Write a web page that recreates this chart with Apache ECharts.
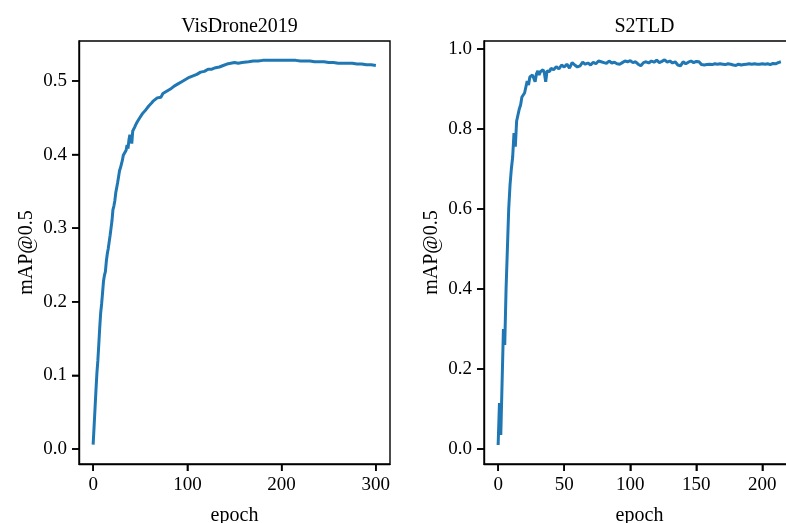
<!DOCTYPE html>
<html>
<head>
<meta charset="utf-8">
<script src="https://cdn.jsdelivr.net/npm/echarts@6/dist/echarts.min.js"></script>
<style>
html,body{margin:0;padding:0;background:#fff;}
#chart{width:786px;height:523px;}
</style>
</head>
<body>
<div id="chart"></div>
<script>
// ---- Data ----
const titles = ['VisDrone2019', 'S2TLD'];
const xAxisName = 'epoch';
const yAxisName = 'mAP@0.5';

const visEpochs = [0,1,2,3,4,5,6,7,8,9,10,11,12,13,14,15,16,17,18,19,20,21,22,23,24,25,26,27,28,29,30,31,32,33,34,35,36,37,38,39,40,41,42,43,44,45,46,47,48,49,50,51,52,53,54,55,56,57,58,59,60,62,64,66,68,70,72,74,76,78,80,82,84,86,88,90,92,94,96,98,100,102,104,106,108,110,112,114,116,118,120,122,124,126,128,130,132,134,136,138,140,142,144,146,148,150,152,154,156,158,160,165,170,175,180,185,190,195,200,205,210,215,220,225,230,235,240,245,250,255,260,265,270,275,280,285,290,295,300];
const visMap = [0.006,0.030,0.055,0.080,0.103,0.120,0.142,0.165,0.185,0.197,0.212,0.228,0.236,0.241,0.255,0.265,0.272,0.281,0.290,0.300,0.310,0.325,0.330,0.337,0.348,0.355,0.362,0.370,0.378,0.382,0.384,0.392,0.399,0.400,0.401,0.406,0.413,0.408,0.420,0.427,0.423,0.415,0.432,0.434,0.437,0.440,0.441,0.445,0.447,0.446,0.451,0.452,0.455,0.454,0.458,0.460,0.461,0.463,0.462,0.466,0.467,0.470,0.473,0.472,0.477,0.479,0.478,0.483,0.484,0.486,0.488,0.489,0.490,0.493,0.494,0.496,0.497,0.499,0.500,0.502,0.503,0.505,0.506,0.507,0.507,0.509,0.511,0.512,0.513,0.513,0.515,0.516,0.517,0.516,0.518,0.518,0.517,0.519,0.520,0.521,0.522,0.523,0.524,0.524,0.524,0.525,0.525,0.524,0.526,0.525,0.526,0.526,0.527,0.527,0.528,0.528,0.528,0.528,0.528,0.528,0.528,0.528,0.527,0.527,0.527,0.526,0.526,0.526,0.525,0.525,0.524,0.524,0.524,0.524,0.523,0.523,0.522,0.522,0.521];

const s2Epochs = [0,1,2,3,4,5,6,7,8,9,10,11,12,13,14,15,16,17,18,19,20,21,22,23,24,25,26,27,28,29,30,31,32,33,34,35,36,37,38,39,40,42,44,46,48,50,52,54,56,58,60,62,64,66,68,70,72,74,76,78,80,82,84,86,88,90,92,94,96,98,100,102,104,106,108,110,112,114,116,118,120,122,124,126,128,130,132,134,136,138,140,142,144,146,148,150,152,154,156,158,160,162,164,166,168,170,172,174,176,178,180,182,184,186,188,190,192,194,196,198,200,202,204,206,208,210,212,213,214];
const s2Map = [0.010,0.115,0.035,0.040,0.300,0.260,0.400,0.500,0.600,0.660,0.700,0.730,0.790,0.756,0.820,0.835,0.850,0.860,0.880,0.875,0.890,0.885,0.920,0.910,0.930,0.925,0.935,0.940,0.918,0.938,0.945,0.935,0.943,0.940,0.948,0.940,0.918,0.945,0.950,0.944,0.952,0.948,0.956,0.950,0.960,0.955,0.962,0.952,0.966,0.960,0.955,0.958,0.967,0.962,0.965,0.960,0.967,0.963,0.970,0.968,0.966,0.964,0.970,0.965,0.967,0.963,0.962,0.966,0.970,0.968,0.971,0.966,0.968,0.962,0.958,0.966,0.968,0.965,0.970,0.967,0.972,0.966,0.969,0.973,0.967,0.970,0.965,0.968,0.960,0.958,0.968,0.963,0.967,0.970,0.966,0.969,0.968,0.961,0.960,0.961,0.962,0.961,0.963,0.962,0.963,0.962,0.961,0.963,0.962,0.960,0.959,0.962,0.960,0.961,0.962,0.963,0.962,0.963,0.962,0.962,0.963,0.962,0.963,0.961,0.964,0.963,0.966,0.970,0.968];

const visXTicks = [0,100,200,300];
const visYTicks = [0.0,0.1,0.2,0.3,0.4,0.5];
const s2XTicks = [0,50,100,150,200];
const s2YTicks = [0.0,0.2,0.4,0.6,0.8,1.0];

// ---- Chart ----
const FONT = '"Liberation Serif", "Times New Roman", serif';
const BLUE = '#1f77b4';
const VIS_X = [-15, 315], VIS_Y = [-0.0204, 0.5543];
const S2_X = [-10.7, 224.7], S2_Y = [-0.0375, 1.02];
const chart = echarts.init(document.getElementById('chart'), null, {renderer: 'canvas'});

function xAx(gridIndex, ext, ticks) {
  return {
    type: 'value', gridIndex, min: ext[0], max: ext[1], position: 'bottom',
    name: xAxisName, nameLocation: 'middle', nameGap: 42,
    nameTextStyle: {fontFamily: FONT, fontSize: 20, color: '#000'},
    axisLine: {show: true, onZero: false, lineStyle: {color: '#000', width: 1.4}},
    splitLine: {show: false},
    axisTick: {show: true, inside: false, length: 7, customValues: ticks, lineStyle: {color: '#000', width: 1.5}},
    axisLabel: {show: true, margin: 12, customValues: ticks, fontFamily: FONT, fontSize: 19, color: '#000', formatter: v => String(Math.round(v))}
  };
}
function yAx(gridIndex, ext, ticks) {
  return {
    type: 'value', gridIndex, min: ext[0], max: ext[1], position: 'left',
    name: yAxisName, nameLocation: 'middle', nameGap: 42, nameRotate: 90,
    nameTextStyle: {fontFamily: FONT, fontSize: 20, color: '#000'},
    axisLine: {show: true, onZero: false, lineStyle: {color: '#000', width: 1.4}},
    splitLine: {show: false},
    axisTick: {show: true, inside: false, length: 7, customValues: ticks, lineStyle: {color: '#000', width: 1.5}},
    axisLabel: {show: true, margin: 12, customValues: ticks, fontFamily: FONT, fontSize: 19, color: '#000', formatter: v => v.toFixed(1)}
  };
}
// Outward tick marks placed through the axes' own scales (api.coord)
function tickSeries(idx, xExt, yExt, xTicks, yTicks) {
  const data = xTicks.map(v => [v, yExt[0], 0]).concat(yTicks.map(v => [xExt[0], v, 1]));
  return {
    type: 'custom', xAxisIndex: idx, yAxisIndex: idx, silent: true, clip: false, z: 5,
    data, encode: {x: 0, y: 1},
    renderItem: (params, api) => {
      const p = api.coord([api.value(0), api.value(1)]);
      const isX = api.value(2) === 0;
      return {
        type: 'line',
        shape: isX ? {x1: p[0], y1: p[1], x2: p[0], y2: p[1] + 7} : {x1: p[0], y1: p[1], x2: p[0] - 7, y2: p[1]},
        style: {stroke: '#000', lineWidth: 1.5}
      };
    }
  };
}

const bigBounds = {left: -300, right: -300, top: -300, bottom: -300};
const option = {
  backgroundColor: '#fff',
  animation: false,
  title: [
    {text: titles[0], left: 234.5, top: 12, textAlign: 'center', textStyle: {fontFamily: FONT, fontSize: 20, fontWeight: 'normal', color: '#000'}},
    {text: titles[1], left: 639.5, top: 12, textAlign: 'center', textStyle: {fontFamily: FONT, fontSize: 20, fontWeight: 'normal', color: '#000'}}
  ],
  grid: [
    {left: 79, top: 41, width: 311, height: 423, show: true, borderColor: '#000', borderWidth: 1.4, backgroundColor: 'transparent', outerBounds: bigBounds},
    {left: 484, top: 41, width: 311, height: 423, show: true, borderColor: '#000', borderWidth: 1.4, backgroundColor: 'transparent', outerBounds: bigBounds}
  ],
  xAxis: [xAx(0, VIS_X, visXTicks), xAx(1, S2_X, s2XTicks)],
  yAxis: [yAx(0, VIS_Y, visYTicks), yAx(1, S2_Y, s2YTicks)],
  series: [
    {type: 'line', xAxisIndex: 0, yAxisIndex: 0, showSymbol: false, silent: true,
     data: visEpochs.map((e, i) => [e, visMap[i]]), lineStyle: {color: BLUE, width: 3}},
    {type: 'line', xAxisIndex: 1, yAxisIndex: 1, showSymbol: false, silent: true,
     data: s2Epochs.map((e, i) => [e, s2Map[i]]), lineStyle: {color: BLUE, width: 3}},
    tickSeries(0, VIS_X, VIS_Y, visXTicks, visYTicks),
    tickSeries(1, S2_X, S2_Y, s2XTicks, s2YTicks)
  ]
};
chart.setOption(option);
</script>
</body>
</html>
